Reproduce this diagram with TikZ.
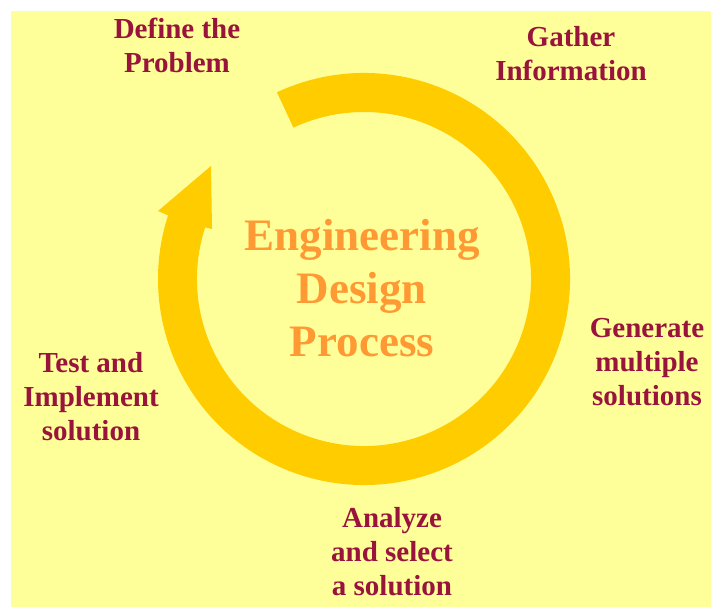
\documentclass[tikz,border=0pt]{standalone}
\usepackage{fontspec}
\setmainfont{Liberation Serif}
\definecolor{bgyellow}{RGB}{255,255,153}
\definecolor{ringc}{RGB}{255,204,0}
\definecolor{labelc}{RGB}{153,20,60}
\definecolor{titlec}{RGB}{255,153,51}
\begin{document}
\begin{tikzpicture}[x=1pt,y=1pt,
  steplabel/.style={text=labelc,font=\fontsize{29}{34}\selectfont\bfseries,align=center,inner sep=0pt},
  titlelabel/.style={text=titlec,font=\fontsize{45}{53}\selectfont\bfseries,align=center,inner sep=0pt}]
\useasboundingbox (0,0) rectangle (711,607);
\fill[white] (0,0) rectangle (711,607);
\fill[bgyellow] (11,0) rectangle (711,596);
\coordinate (c) at (364,328);
\coordinate (barb) at (158,396);
\coordinate (tip) at (211,441);
\coordinate (base) at (212,378);
\fill[ringc] ([shift={(115:206)}]c) arc[start angle=115, end angle=-198, radius=206]
  -- (barb) -- (tip) -- (base) -- ([shift={(162:167)}]c)
  arc[start angle=-198, end angle=115, radius=167] -- cycle;
\node[titlelabel] (title) at (362,319) {Engineering\\Design\\Process};
\node[steplabel] (define) at (177,562) {Define the\\Problem};
\node[steplabel] (gather) at (571,553) {Gather\\Information};
\node[steplabel] (generate) at (647,245) {Generate\\multiple\\solutions};
\node[steplabel] (analyze) at (392,55) {Analyze\\and select\\a solution};
\node[steplabel] (test) at (91,210) {Test and\\Implement\\solution};
\end{tikzpicture}
\end{document}
